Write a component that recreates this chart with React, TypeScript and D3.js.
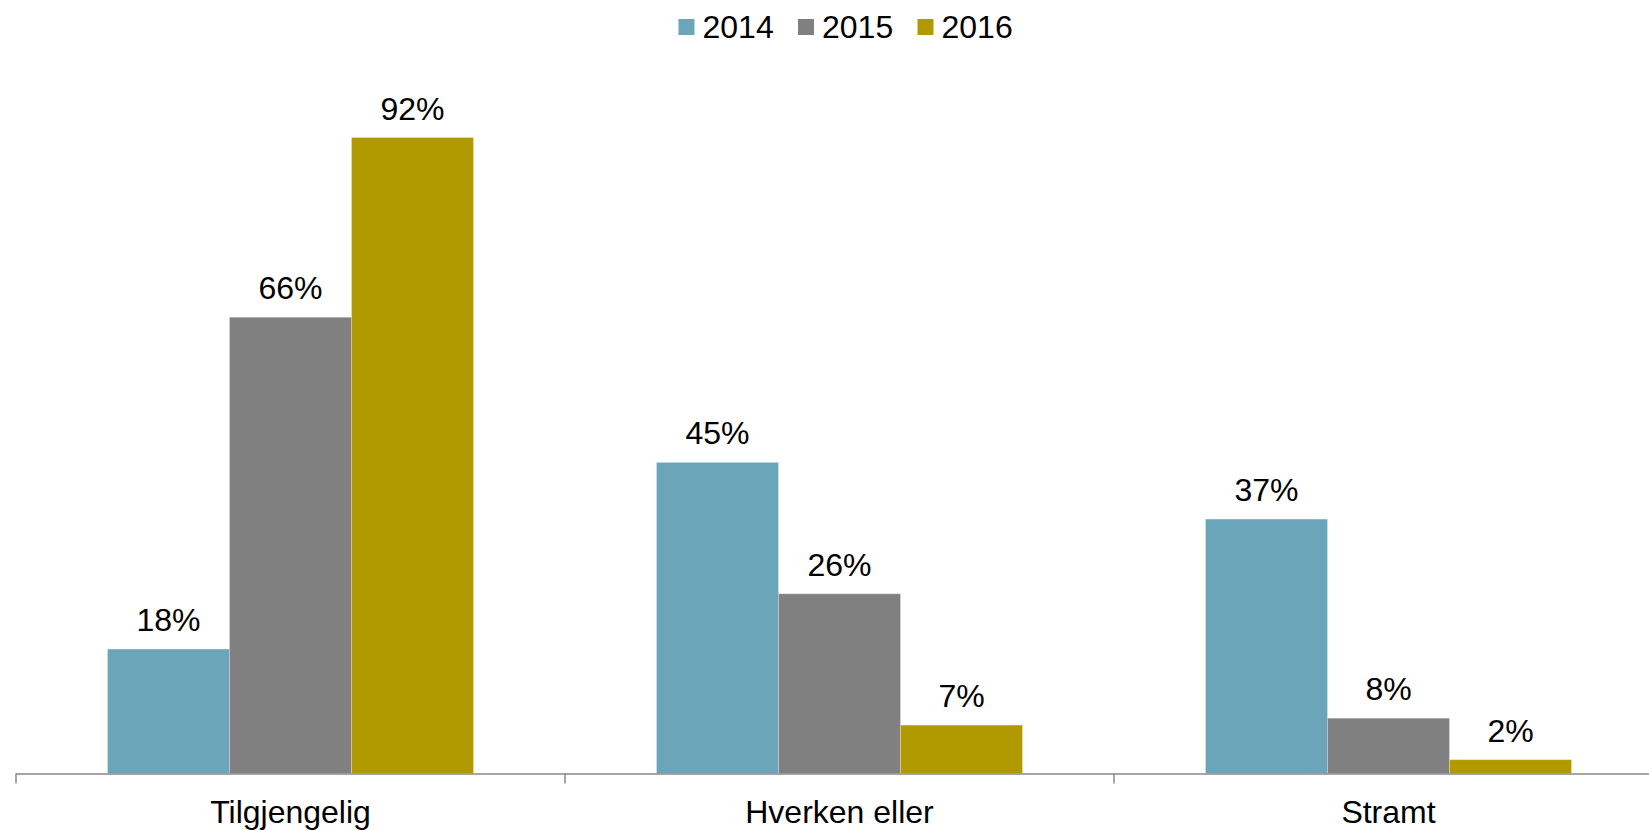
import React from "react";
import * as d3 from "d3";

const categories = ["Tilgjengelig", "Hverken eller", "Stramt"];
const seriesNames = ["2014", "2015", "2016"];
const values2014 = [0.18, 0.45, 0.368];
const values2015 = [0.66, 0.26, 0.08];
const values2016 = [0.92, 0.07, 0.02];
const seriesValues = [values2014, values2015, values2016];
const colors = ["#6BA5B9", "#808080", "#B19900"];

const W = 1649;
const H = 831;

export default function App() {
  const x = d3.scaleBand<string>().domain(categories).range([16, 16 + 3 * 549]).paddingInner(0).paddingOuter(0);
  const xs = d3.scaleBand<string>().domain(seriesNames).range([91.5, 457.5]).padding(0);
  const y = d3.scaleLinear().domain([0, 1]).range([773.5, 82.2]);
  const fmt = d3.format(".0%");
  const font = "Arial, 'Liberation Sans', sans-serif";
  const ticks = [...categories.map((c) => x(c) as number), x.range()[1]];

  return (
    <svg width={W} height={H} style={{ position: "absolute", left: 0, top: 0, background: "#fff" }} fontFamily={font}>
      {/* legend */}
      {seriesNames.map((s, i) => (
        <g key={s} transform={`translate(${678.5 + i * 119.5},0)`}>
          <rect x={0} y={19} width={16} height={16} fill={colors[i]} />
          <text x={24} y={37.5} fontSize={32} fill="#000">{s}</text>
        </g>
      ))}
      {/* bars */}
      {categories.map((c, ci) => (
        <g key={c} transform={`translate(${x(c)},0)`}>
          {seriesNames.map((s, si) => {
            const v = seriesValues[si][ci];
            const bx = xs(s) as number;
            const bw = xs.bandwidth();
            return (
              <g key={s}>
                <rect x={bx} y={y(v)} width={bw} height={y(0) - y(v)} fill={colors[si]} stroke="#ffffff" strokeOpacity={0.25} strokeWidth={1} />
                <text x={bx + bw / 2} y={y(v) - 18} textAnchor="middle" fontSize={32} fill="#000">{fmt(v)}</text>
              </g>
            );
          })}
          <text x={x.bandwidth() / 2} y={823} textAnchor="middle" fontSize={32} fill="#000">{c}</text>
        </g>
      ))}
      {/* axis */}
      <line x1={x.range()[0]} x2={x.range()[1]} y1={y(0) + 0.5} y2={y(0) + 0.5} stroke="#898989" strokeWidth={1.5} />
      {ticks.map((t, i) => (
        <line key={i} x1={t} x2={t} y1={y(0)} y2={y(0) + 10} stroke="#898989" strokeWidth={1.5} />
      ))}
    </svg>
  );
}
